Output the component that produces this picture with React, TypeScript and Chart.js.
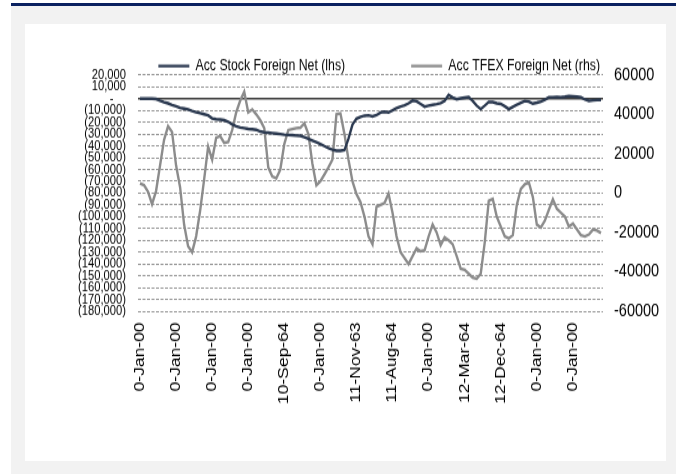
import React, { useEffect, useRef } from "react";
import { Chart, registerables } from "chart.js";

Chart.register(...registerables);

// ---- data ----
const TICK_LABELS = [
  "0-Jan-00", "0-Jan-00", "0-Jan-00", "0-Jan-00", "10-Sep-64", "0-Jan-00",
  "11-Nov-63", "11-Aug-64", "0-Jan-00", "12-Mar-64", "12-Dec-64", "0-Jan-00", "0-Jan-00",
];
const LABEL_EVERY = 9;

const STOCK_NET = [
  0, 0, 0, 0, -300, -1800, -3000, -4000, -5500, -6500,
  -7800, -8500, -9200, -10500, -11500, -12300, -13200, -14200, -16800, -17500,
  -17800, -18300, -19600, -21800, -23400, -24500, -25000, -25600, -26000, -26400,
  -27800, -28600, -28800, -29200, -29600, -30000, -30500, -30800, -31000, -31300,
  -31500, -32600, -34000, -35500, -37000, -38500, -40200, -42000, -43200, -44100,
  -44200, -43500, -34000, -22000, -17000, -15500, -14500, -14200, -15000, -14000,
  -11800, -11200, -11800, -10000, -8000, -6800, -5800, -4000, -1700, -2300,
  -4500, -6800, -6000, -5300, -4600, -3800, -2000, 3100, 1000, -500,
  200, 800, 1200, -2000, -6000, -8900, -6000, -2800, -3000, -4000,
  -4500, -6500, -8900, -7000, -5300, -3500, -2000, -2500, -4300, -3500,
  -2600, -1000, 1200, 1200, 1300, 1200, 1500, 2200, 2000, 1600,
  1200, -800, -1800, -1500, -1200, -1100,
];

const TFEX_NET = [
  5000, 4000, 700, -5600, 1000, 14000, 27000, 34000, 31000, 14000,
  3000, -16000, -27000, -30000, -22000, -9000, 7000, 23600, 17000, 28000,
  29000, 25500, 26000, 32000, 41000, 47000, 51500, 41000, 42500, 40000,
  37000, 33000, 13000, 8500, 7500, 12000, 25000, 32000, 32500, 33000,
  33200, 35500, 30000, 15000, 4000, 6000, 9500, 13000, 17000, 40000,
  40500, 30000, 17000, 6000, -500, -4500, -12000, -22000, -26000, -7000,
  -6000, -5000, -200, -10000, -22000, -30000, -33000, -36000, -32000, -28000,
  -29500, -29000, -22000, -16000, -20000, -26500, -22500, -24000, -26000, -32000,
  -38400, -39000, -41000, -43000, -43500, -41000, -25000, -4000, -3000, -12000,
  -17000, -22000, -23000, -21400, -6000, 2000, 4500, 5500, -2000, -16000,
  -17500, -14000, -8500, -3200, -8000, -10000, -12000, -17000, -15500, -18500,
  -21400, -22000, -21000, -18500, -19000, -20300,
];

const LEFT_MIN = -180000;
const LEFT_MAX = 20000;
const LEFT_STEP = 10000;
const RIGHT_MIN = -60000;
const RIGHT_MAX = 60000;
const RIGHT_STEP = 20000;

const SERIES_NAMES = ["Acc Stock Foreign Net (lhs)", "Acc TFEX Foreign Net (rhs)"];

// ---- chart ----
const FONT = '"Liberation Sans", Arial, sans-serif';
const NARROW = '"Liberation Sans Narrow", "Arial Narrow", "Liberation Sans", Arial, sans-serif';

const CANVAS_W = 641;
const CANVAS_H = 350;
const SHOW_H = 437;

const fmtLeft = (v: number) => {
  if (v === 0) return "-    ";
  const s = Math.abs(v).toLocaleString("en-US");
  return v < 0 ? "(" + s + ")" : s;
};

const zeroLine = {
  id: "zeroLine",
  beforeDatasetsDraw(chart: any) {
    const y = chart.scales.y.getPixelForValue(0);
    const { left, right } = chart.chartArea;
    const ctx = chart.ctx;
    ctx.save();
    ctx.strokeStyle = "#3a3a3a";
    ctx.lineWidth = 1.4;
    ctx.beginPath();
    ctx.moveTo(left, y);
    ctx.lineTo(right, y);
    ctx.stroke();
    ctx.restore();
  },
};

export default function App() {
  const ref = useRef<HTMLCanvasElement | null>(null);

  useEffect(() => {
    if (!ref.current) return;
    const labels = STOCK_NET.map((_, i) =>
      i % LABEL_EVERY === 0 ? TICK_LABELS[i / LABEL_EVERY] ?? "" : ""
    );
    const chart = new Chart(ref.current, {
      type: "line",
      data: {
        labels,
        datasets: [
          {
            label: SERIES_NAMES[0],
            data: STOCK_NET,
            yAxisID: "y",
            borderColor: "#2b3950",
            backgroundColor: "#2b3950",
            borderWidth: 2.4,
            pointRadius: 0,
            tension: 0,
            fill: false,
          },
          {
            label: SERIES_NAMES[1],
            data: TFEX_NET,
            yAxisID: "y1",
            borderColor: "#8c8c8c",
            backgroundColor: "#8c8c8c",
            borderWidth: 2.4,
            pointRadius: 0,
            tension: 0,
            fill: false,
          },
        ],
      },
      options: {
        responsive: false,
        animation: false,
        devicePixelRatio: 1,
        layout: { padding: { top: -38.5, left: 0, right: 0, bottom: 0 } },
        plugins: {
          tooltip: { enabled: false },
          legend: {
            display: true,
            position: "top",
            align: "end",
            maxHeight: 79.3,
            labels: {
              usePointStyle: true,
              pointStyle: "line",
              pointStyleWidth: 31,
              padding: 66,
              color: "#000",
              font: { family: FONT, size: 12.3 },
            },
          },
        },
        scales: {
          x: {
            type: "category",
            offset: true,
            grid: { display: false, drawTicks: false },
            border: { display: false },
            ticks: {
              autoSkip: false,
              minRotation: 90,
              maxRotation: 90,
              padding: 9,
              color: "#000",
              font: { family: FONT, size: 14 },
            },
            afterFit(s: any) {
              s.height = 120;
            },
          },
          y: {
            position: "left",
            min: LEFT_MIN,
            max: LEFT_MAX,
            ticks: {
              stepSize: LEFT_STEP,
              maxTicksLimit: 40,
              autoSkip: false,
              padding: 12,
              color: "#000",
              font: { family: NARROW, size: 11.2 },
              callback: (v: any) => fmtLeft(Number(v)),
            },
            grid: { color: "#969696", lineWidth: 1, drawTicks: false },
            border: { display: false, dash: [3, 1.5] },
            afterFit(s: any) {
              s.width = 113;
            },
          },
          y1: {
            position: "right",
            min: RIGHT_MIN,
            max: RIGHT_MAX,
            ticks: {
              stepSize: RIGHT_STEP,
              maxTicksLimit: 40,
              autoSkip: false,
              padding: 11,
              color: "#000",
              font: { family: FONT, size: 14.5 },
              callback: (v: any) => String(v),
            },
            grid: { drawOnChartArea: false, drawTicks: false },
            border: { display: false },
            afterFit(s: any) {
              s.width = 63;
            },
          },
        },
      },
      plugins: [zeroLine],
    } as any);
    return () => chart.destroy();
  }, []);

  return (
    <div
      style={{
        position: "fixed",
        left: 0,
        top: 0,
        width: 676,
        height: 474,
        background: "#ffffff",
        overflow: "hidden",
      }}
    >
      <div style={{ position: "absolute", left: 11, top: 3, right: 0, height: 3, background: "#0a2160" }} />
      <div style={{ position: "absolute", left: 11, top: 6, right: 0, bottom: 0, background: "#f2f2f2" }} />
      <div
        style={{
          position: "absolute",
          left: 25,
          top: 24,
          width: CANVAS_W,
          height: SHOW_H,
          background: "#ffffff",
        }}
      >
        <canvas
          ref={ref}
          width={CANVAS_W}
          height={CANVAS_H}
          style={{ width: CANVAS_W, height: SHOW_H, display: "block" }}
        />
      </div>
    </div>
  );
}
